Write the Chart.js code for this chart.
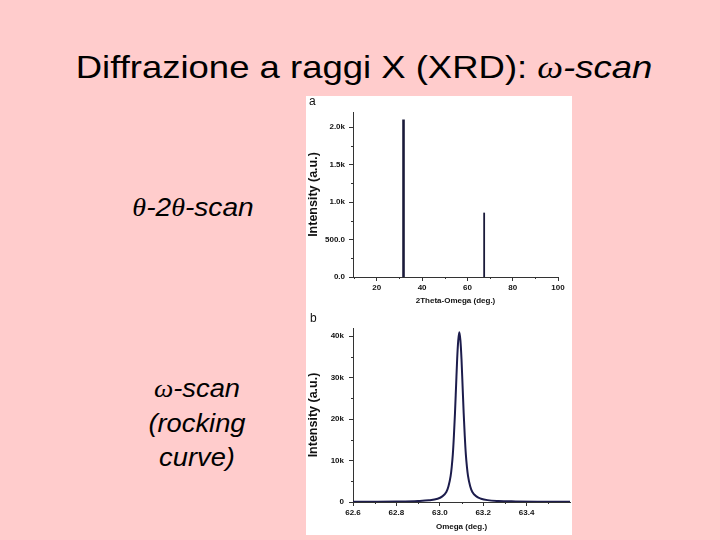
<!DOCTYPE html>
<html><head><meta charset="utf-8">
<script src="https://cdn.jsdelivr.net/npm/chart.js@4"></script>
<style>
html,body{margin:0;padding:0;}
body{width:720px;height:540px;background:#ffcccc;position:relative;overflow:hidden;font-family:"Liberation Sans",Arial,sans-serif;color:#000;}
.t{position:absolute;white-space:nowrap;}
.g{font-family:"Liberation Serif","Times New Roman",serif;font-style:italic;}
.i{font-style:italic;}
#panel{position:absolute;left:306px;top:96px;width:266px;height:439px;background:#fff;}
#cA{position:absolute;left:306px;top:97px;}
#cB{position:absolute;left:306px;top:310px;}
.lab{position:absolute;font-size:12px;line-height:12px;color:#111;}
</style></head>
<body>
<div class="t" style="left:4px;width:720px;text-align:center;top:51px;font-size:32px;line-height:32px;transform:scaleX(1.14);transform-origin:360px 0;">Diffrazione a raggi X (XRD): <span class="g">ω</span><span class="i">-scan</span></div>
<div class="t" style="left:93px;width:200px;text-align:center;top:194px;font-size:26px;line-height:26px;transform:scaleX(1.08);transform-origin:100px 0;"><span class="g">θ</span><span class="i">-2</span><span class="g">θ</span><span class="i">-scan</span></div>
<div class="t i" style="left:97px;width:200px;text-align:center;top:371px;font-size:26px;line-height:34px;transform:scaleX(1.05);transform-origin:100px 0;"><span class="g">ω</span>-scan<br>(rocking<br>curve)</div>
<div id="panel"></div>
<canvas id="cA" width="266" height="213"></canvas>
<canvas id="cB" width="266" height="225"></canvas>
<div class="lab" style="left:309px;top:95px;">a</div>
<div class="lab" style="left:310px;top:312px;">b</div>
<script>
// Panel a: 2Theta-Omega scan
const twoThetaPeaks = [31.8, 67.4];
const twoThetaIntensity = [2100, 858];
const twoThetaXTicks = [20, 40, 60, 80, 100];
const twoThetaXMinor = [10, 30, 50, 70, 90];
const twoThetaYTicks = [0, 500, 1000, 1500, 2000];
const twoThetaYLabels = ['0.0', '500.0', '1.0k', '1.5k', '2.0k'];
const twoThetaYMinor = [250, 750, 1250, 1750];

// Panel b: Omega scan (rocking curve)
const omega = [62.60, 62.70, 62.80, 62.90, 62.95, 62.99, 63.01, 63.03, 63.04, 63.05, 63.055, 63.06, 63.065, 63.07, 63.075, 63.08, 63.085, 63.09,
  63.095, 63.10, 63.105, 63.11, 63.115, 63.12, 63.125, 63.13, 63.14, 63.15, 63.17, 63.19, 63.22, 63.27, 63.35, 63.45, 63.60];
const rockingIntensity = [50, 70, 120, 250, 420, 800, 1300, 2400, 3800, 6300, 8500, 11500, 16000, 21500, 28000, 34500, 39000, 41000,
  39000, 34500, 28000, 21500, 16000, 11500, 8500, 6300, 3800, 2400, 1300, 800, 450, 250, 150, 80, 50];
const omegaXTicks = [62.6, 62.8, 63.0, 63.2, 63.4];
const omegaXLabels = ['62.6', '62.8', '63.0', '63.2', '63.4'];
const omegaXMinor = [62.7, 62.9, 63.1, 63.3, 63.5];
const omegaYTicks = [0, 10000, 20000, 30000, 40000];
const omegaYLabels = ['0', '10k', '20k', '30k', '40k'];
const omegaYMinor = [5000, 15000, 25000, 35000];

const AX = '#333';
const FAM = '"Liberation Sans", Arial, sans-serif';
const tickFont = {family: FAM, size: 8, weight: 'bold'};

const minorTicks = {
  id: 'minorTicks',
  afterDraw(chart, args, opts) {
    const ctx = chart.ctx, xs = chart.scales.x, ys = chart.scales.y;
    ctx.save();
    ctx.strokeStyle = AX; ctx.lineWidth = 1;
    ctx.beginPath();
    (opts.x || []).forEach(v => {
      const p = Math.round(xs.getPixelForValue(v)) + 0.5;
      ctx.moveTo(p, xs.top); ctx.lineTo(p, xs.top + 2);
    });
    (opts.y || []).forEach(v => {
      const p = Math.round(ys.getPixelForValue(v)) + 0.5;
      ctx.moveTo(ys.right, p); ctx.lineTo(ys.right - 2, p);
    });
    ctx.stroke();
    ctx.restore();
  }
};

function axisCommon() {
  return {
    grid: {drawOnChartArea: false, drawTicks: true, tickLength: 4, color: AX},
    border: {display: true, color: AX, width: 1},
  };
}

new Chart(document.getElementById('cA'), {
  type: 'line',
  data: {
    datasets: twoThetaPeaks.map((p, i) => ({
      data: [{x: p, y: 0}, {x: p, y: twoThetaIntensity[i]}],
      borderColor: '#1a1a3a', borderWidth: i === 0 ? 2.6 : 1.8, pointRadius: 0, fill: false
    }))
  },
  options: {
    responsive: false, animation: false, devicePixelRatio: 1,
    layout: {padding: {top: 15, right: 14, left: 0, bottom: 0}},
    plugins: {legend: {display: false}, tooltip: {enabled: false}, minorTicks: {x: twoThetaXMinor, y: twoThetaYMinor}},
    scales: {
      x: Object.assign(axisCommon(), {
        type: 'linear', min: 9.5, max: 100,
        afterBuildTicks: s => { s.ticks = twoThetaXTicks.map(v => ({value: v})); },
        afterFit: s => { s.height = 33; },
        ticks: {font: tickFont, color: '#111', padding: 2, autoSkip: false, maxRotation: 0, callback: v => String(v)},
        title: {display: true, text: '2Theta-Omega (deg.)', font: {family: FAM, size: 8, weight: 'bold'}, color: '#111', padding: {top: 0, bottom: 4}}
      }),
      y: Object.assign(axisCommon(), {
        type: 'linear', min: 0, max: 2200,
        afterBuildTicks: s => { s.ticks = twoThetaYTicks.map(v => ({value: v})); },
        afterFit: s => { s.width = 47; },
        ticks: {font: tickFont, color: '#111', padding: 4, autoSkip: false, callback: v => twoThetaYLabels[twoThetaYTicks.indexOf(v)]},
        title: {display: true, text: 'Intensity (a.u.)', font: {family: FAM, size: 12.5, weight: 'bold'}, color: '#111', padding: {top: 0, bottom: 0}}
      })
    }
  },
  plugins: [minorTicks]
});

new Chart(document.getElementById('cB'), {
  type: 'line',
  data: {
    datasets: [{
      data: omega.map((x, i) => ({x: x, y: rockingIntensity[i]})),
      borderColor: '#1c1c4c', borderWidth: 2, pointRadius: 0, fill: false, cubicInterpolationMode: 'monotone'
    }]
  },
  options: {
    responsive: false, animation: false, devicePixelRatio: 1,
    layout: {padding: {top: 18, right: 2, left: 0, bottom: 0}},
    plugins: {legend: {display: false}, tooltip: {enabled: false}, minorTicks: {x: omegaXMinor, y: omegaYMinor}},
    scales: {
      x: Object.assign(axisCommon(), {
        type: 'linear', min: 62.6, max: 63.6,
        afterBuildTicks: s => { s.ticks = omegaXTicks.map(v => ({value: v})); },
        afterFit: s => { s.height = 33; },
        ticks: {font: tickFont, color: '#111', padding: 2, autoSkip: false, maxRotation: 0, callback: (v, i) => omegaXLabels[i]},
        title: {display: true, text: 'Omega (deg.)', font: {family: FAM, size: 8, weight: 'bold'}, color: '#111', padding: {top: 0, bottom: 3}}
      }),
      y: Object.assign(axisCommon(), {
        type: 'linear', min: 0, max: 42000,
        afterBuildTicks: s => { s.ticks = omegaYTicks.map(v => ({value: v})); },
        afterFit: s => { s.width = 47; },
        ticks: {font: tickFont, color: '#111', padding: 5, autoSkip: false, callback: v => omegaYLabels[omegaYTicks.indexOf(v)]},
        title: {display: true, text: 'Intensity (a.u.)', font: {family: FAM, size: 12.5, weight: 'bold'}, color: '#111', padding: {top: 0, bottom: 0}}
      })
    }
  },
  plugins: [minorTicks]
});
</script>
</body></html>
